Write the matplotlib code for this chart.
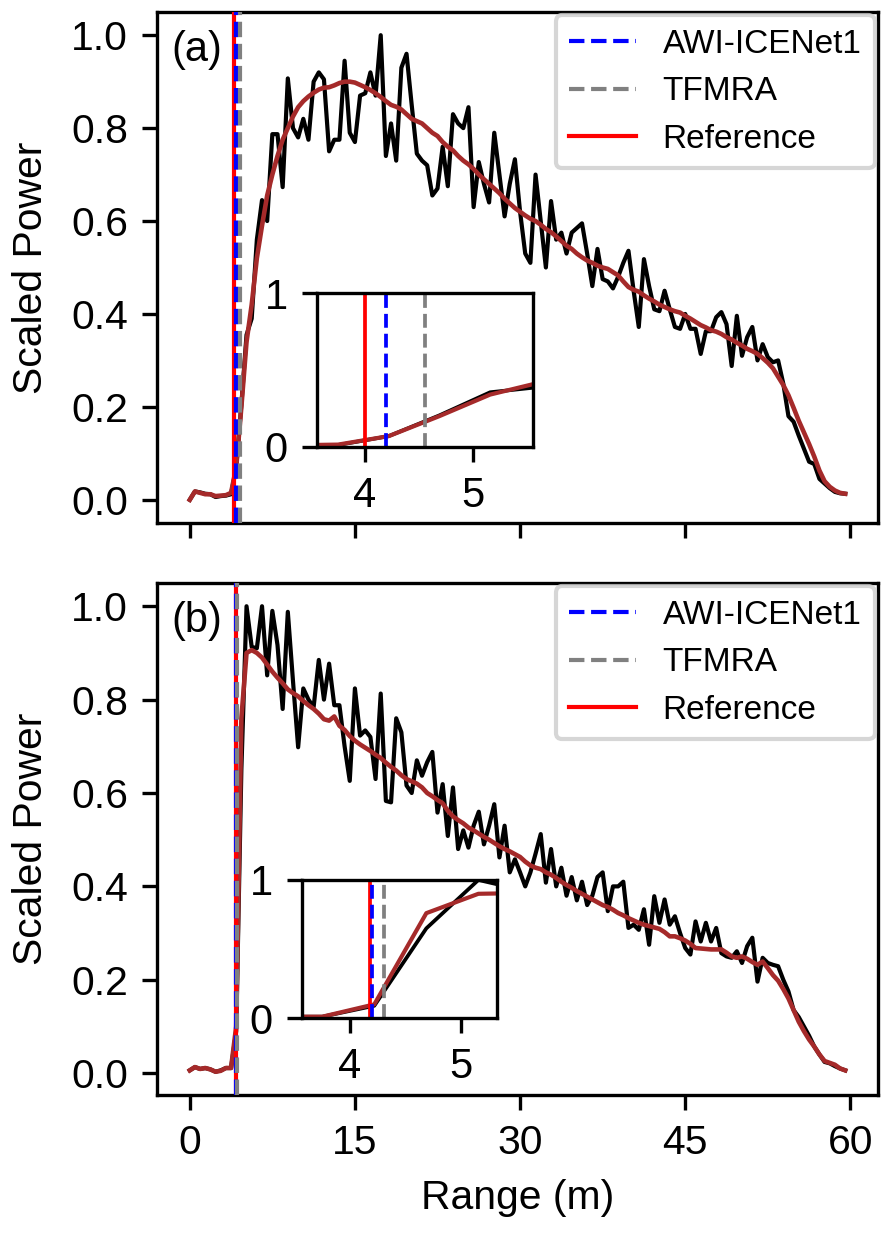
import numpy as np
import matplotlib
matplotlib.use("Agg")
import matplotlib.pyplot as plt

plt.rcParams['font.family'] = ['Liberation Sans', 'DejaVu Sans']
plt.rcParams['font.size'] = 9.8

# range bins (128 gates, 60 m window)
range_m = np.arange(128) * 0.46875

# panel (a): measured waveform and reference (smoothed) waveform
power_a = [0.0, 0.018, 0.016, 0.013, 0.012, 0.006, 0.008, 0.009, 0.012, 0.07, 0.205, 0.355, 0.39,
           0.56, 0.645, 0.60, 0.787, 0.787, 0.673, 0.907,
           0.80, 0.78, 0.82, 0.775, 0.90, 0.92, 0.905, 0.75, 0.775, 0.775,
           0.945, 0.79, 0.77, 0.87, 0.875, 0.92, 0.87, 1.0, 0.74, 0.81,
           0.73, 0.93, 0.96, 0.85, 0.745, 0.73, 0.72, 0.655, 0.67, 0.76,
           0.675, 0.83, 0.81, 0.80, 0.845, 0.63, 0.727, 0.68, 0.64, 0.79,
           0.70, 0.61, 0.68, 0.733, 0.62, 0.53, 0.51, 0.70, 0.60, 0.50,
           0.643, 0.56, 0.575, 0.53, 0.575, 0.585, 0.595, 0.53, 0.46, 0.54,
           0.475, 0.47, 0.455, 0.48, 0.51, 0.536, 0.45, 0.372, 0.518, 0.46,
           0.41, 0.406, 0.45, 0.41, 0.372, 0.368, 0.40, 0.368, 0.368, 0.314,
           0.363, 0.363, 0.393, 0.404, 0.378, 0.288, 0.396, 0.31, 0.35, 0.372,
           0.30, 0.335, 0.307, 0.296, 0.30, 0.25, 0.18, 0.168, 0.138, 0.11,
           0.082, 0.077, 0.045, 0.035, 0.025, 0.017, 0.014, 0.013]
ref_a = [0.0, 0.018, 0.015, 0.012, 0.012, 0.008, 0.009, 0.01, 0.015, 0.07, 0.20, 0.34, 0.42,
         0.52, 0.59, 0.655, 0.70, 0.74, 0.775, 0.80,
         0.825, 0.845, 0.858, 0.868, 0.876, 0.883, 0.887, 0.888, 0.892, 0.897,
         0.90, 0.90, 0.898, 0.893, 0.888, 0.882, 0.875, 0.867, 0.858, 0.850,
         0.846, 0.84, 0.83, 0.82, 0.815, 0.81, 0.80, 0.79, 0.783, 0.77,
         0.76, 0.752, 0.74, 0.73, 0.722, 0.712, 0.70, 0.69, 0.68, 0.67,
         0.66, 0.648, 0.638, 0.628, 0.62, 0.612, 0.605, 0.60, 0.592, 0.583,
         0.576, 0.567, 0.557, 0.547, 0.54, 0.53, 0.522, 0.515, 0.51, 0.504,
         0.50, 0.497, 0.49, 0.483, 0.47, 0.458, 0.452, 0.448, 0.44, 0.433,
         0.427, 0.42, 0.415, 0.41, 0.406, 0.403, 0.396, 0.39, 0.383, 0.376,
         0.371, 0.365, 0.362, 0.357, 0.35, 0.345, 0.338, 0.332, 0.325, 0.32,
         0.314, 0.305, 0.295, 0.283, 0.265, 0.247, 0.225, 0.198, 0.17, 0.145,
         0.12, 0.093, 0.063, 0.04, 0.028, 0.02, 0.015, 0.013]

# panel (b)
power_b = [0.006, 0.013, 0.009, 0.011, 0.008, 0.003, 0.006, 0.011, 0.011, 0.09,
           0.65, 1.0, 0.913, 0.91, 1.0, 0.852, 0.99, 0.917, 0.78, 0.988,
           0.84, 0.698, 0.824, 0.80, 0.784, 0.885, 0.80, 0.877, 0.788, 0.788,
           0.70, 0.626, 0.824, 0.723, 0.734, 0.72, 0.63, 0.813, 0.583, 0.58,
           0.76, 0.73, 0.616, 0.60, 0.67, 0.637, 0.666, 0.688, 0.558, 0.619,
           0.508, 0.612, 0.48, 0.52, 0.483, 0.53, 0.56, 0.49, 0.53, 0.576,
           0.462, 0.53, 0.43, 0.458, 0.43, 0.40, 0.43, 0.47, 0.512, 0.408,
           0.48, 0.40, 0.44, 0.38, 0.42, 0.37, 0.41, 0.36, 0.38, 0.42,
           0.43, 0.347, 0.40, 0.40, 0.41, 0.311, 0.318, 0.307, 0.351, 0.275,
           0.379, 0.322, 0.372, 0.318, 0.336, 0.30, 0.268, 0.254, 0.325, 0.282,
           0.322, 0.282, 0.311, 0.257, 0.25, 0.247, 0.261, 0.236, 0.272, 0.29,
           0.196, 0.247, 0.236, 0.232, 0.229, 0.20, 0.175, 0.135, 0.12, 0.10,
           0.08, 0.057, 0.04, 0.024, 0.021, 0.015, 0.010, 0.006]
ref_b = [0.006, 0.013, 0.009, 0.011, 0.008, 0.003, 0.005, 0.011, 0.011, 0.10,
         0.76, 0.90, 0.906, 0.90, 0.89, 0.875, 0.86, 0.847, 0.835, 0.822,
         0.814, 0.807, 0.797, 0.788, 0.78, 0.77, 0.758, 0.755, 0.764, 0.744,
         0.735, 0.722, 0.712, 0.704, 0.697, 0.69, 0.682, 0.675, 0.665, 0.656,
         0.648, 0.638, 0.63, 0.625, 0.62, 0.612, 0.60, 0.593, 0.585, 0.578,
         0.562, 0.55, 0.542, 0.535, 0.526, 0.52, 0.513, 0.506, 0.50, 0.493,
         0.486, 0.48, 0.475, 0.469, 0.463, 0.453, 0.445, 0.44, 0.437, 0.43,
         0.425, 0.418, 0.41, 0.403, 0.397, 0.39, 0.384, 0.378, 0.372, 0.366,
         0.36, 0.356, 0.35, 0.343, 0.338, 0.332, 0.327, 0.322, 0.318, 0.315,
         0.312, 0.309, 0.302, 0.293, 0.293, 0.289, 0.284, 0.277, 0.268, 0.267,
         0.266, 0.265, 0.265, 0.265, 0.258, 0.25, 0.247, 0.25, 0.245, 0.238,
         0.232, 0.239, 0.225, 0.21, 0.198, 0.18, 0.16, 0.135, 0.11, 0.09,
         0.072, 0.057, 0.04, 0.026, 0.022, 0.018, 0.01, 0.006]

# retracked surface positions (m): AWI-ICENet1, TFMRA, Reference
retrack_a = [4.19, 4.55, 4.0]
retrack_b = [4.20, 4.31, 4.18]
inset_xlim = [(3.556, 5.556), (3.567, 5.32)]

fig = plt.figure(figsize=(2.98, 4.11), dpi=300)
ax1 = fig.add_axes([0.1756, 0.5758, 0.8065, 0.4145])
ax2 = fig.add_axes([0.1756, 0.1119, 0.8065, 0.4153], sharex=ax1)


def draw_panel(ax, power, ref, retr, label, inset_rect, xl):
    ax.plot(range_m, power, color='black', lw=1.0, zorder=2)
    ax.plot(range_m, ref, color='brown', lw=1.1, zorder=2.1)
    l_ref = ax.axvline(retr[2], color='red', lw=1.0, ls='-', zorder=3)
    l_awi = ax.axvline(retr[0], color='blue', lw=1.0, ls='--', zorder=3.1)
    l_tf = ax.axvline(retr[1], color='gray', lw=1.0, ls='--', zorder=3.2)
    ax.legend([l_awi, l_tf, l_ref], ['AWI-ICENet1', 'TFMRA', 'Reference'],
              loc='upper right', fontsize=8, borderaxespad=0.1)
    ax.text(0.02, 0.965, label, transform=ax.transAxes, ha='left', va='top', fontsize=10)
    ax.set_ylabel('Scaled Power', labelpad=5)
    ax.set_yticks([0.0, 0.2, 0.4, 0.6, 0.8, 1.0])

    # zoom on the leading edge
    ins = ax.inset_axes(inset_rect)
    ins.plot(range_m, power, color='black', lw=0.9)
    ins.plot(range_m, ref, color='brown', lw=1.0)
    ins.axvline(retr[2], color='red', lw=0.9, ls='-')
    ins.axvline(retr[0], color='blue', lw=0.9, ls='--')
    ins.axvline(retr[1], color='gray', lw=0.9, ls='--')
    ins.set_xlim(xl)
    ins.set_ylim(0, 1)
    ins.set_xticks([4, 5])
    ins.set_yticks([0, 1])
    ins.tick_params(labelsize=10)


draw_panel(ax1, power_a, ref_a, retrack_a, '(a)', [0.222, 0.149, 0.30, 0.301], inset_xlim[0])
draw_panel(ax2, power_b, ref_b, retrack_b, '(b)', [0.201, 0.150, 0.27, 0.27], inset_xlim[1])

ax2.set_xticks([0, 15, 30, 45, 60])
ax2.set_xlabel('Range (m)')
ax1.tick_params(labelbottom=False)

fig.savefig('out.png', dpi=300)
